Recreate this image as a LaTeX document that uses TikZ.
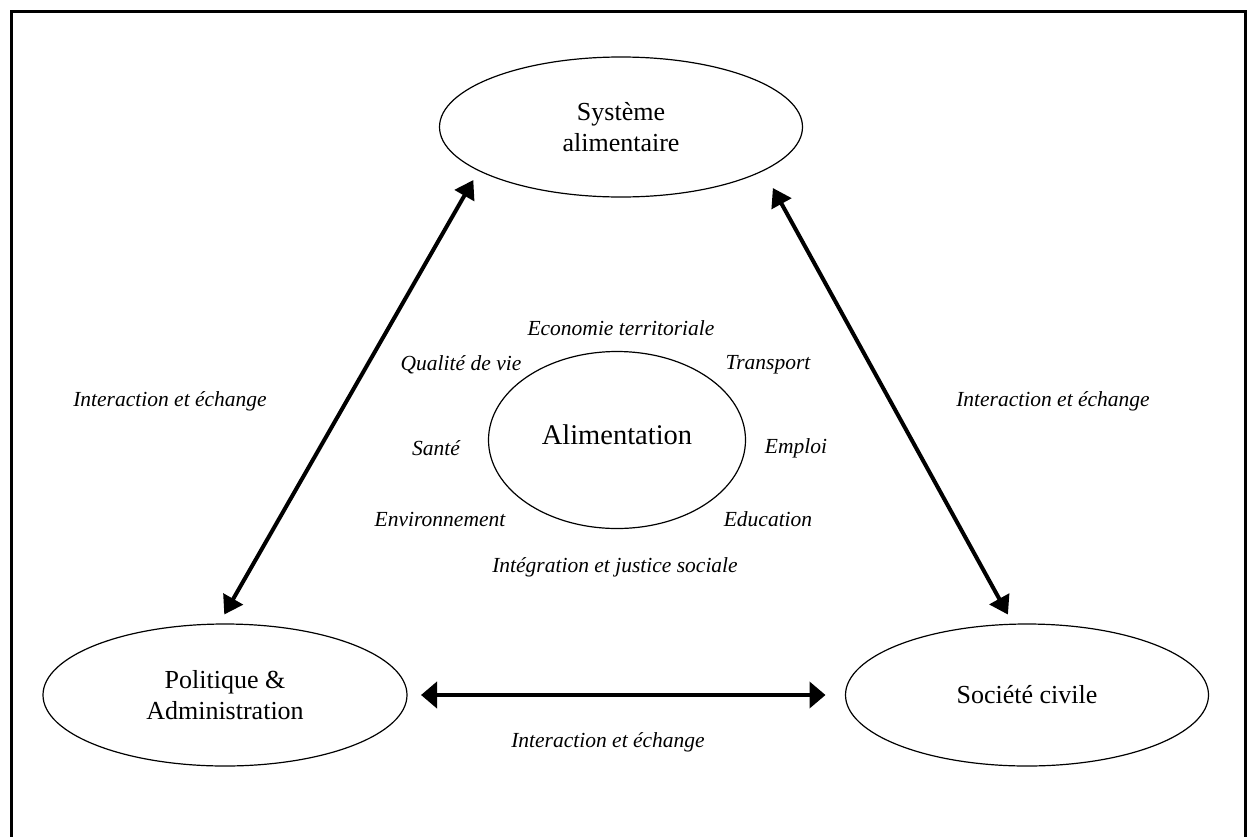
\documentclass[tikz,border=0pt]{standalone}
\usepackage{fontspec}
\setmainfont{Liberation Serif}
\usetikzlibrary{arrows.meta,shapes.geometric}
\begin{document}
\begin{tikzpicture}[x=1pt,y=-1pt,
  big/.style={ellipse,draw,line width=1.2pt,inner sep=0pt,outer sep=0pt,align=center,
    font=\fontsize{26}{31}\selectfont},
  lab/.style={font=\fontsize{21.5}{24}\selectfont\itshape,inner sep=0pt},
  biarrow/.style={line width=4pt,{Triangle[length=18pt,width=22pt]}-{Triangle[length=18pt,width=22pt]}},
  harrow/.style={line width=4pt,{Triangle[length=16pt,width=26pt]}-{Triangle[length=16pt,width=26pt]}}]
\useasboundingbox (0,0) rectangle (1247,836);
\begin{scope}
\clip (0,0) rectangle (1247,836);
\draw[line width=3pt] (11,11) rectangle (1245,860);
\end{scope}
\node[big,minimum width=363pt,minimum height=140pt] (sys) at (621,127) {Système\\alimentaire};
\node[big,minimum width=364pt,minimum height=142pt] (pol) at (225,695) {Politique \&\\Administration};
\node[big,minimum width=363pt,minimum height=142pt] (soc) at (1027,695) {Société civile};
\node[ellipse,draw,line width=1.2pt,inner sep=0pt,outer sep=0pt,minimum width=257pt,minimum height=177pt] (ali) at (617,440) {};
\node[font=\fontsize{28.5}{30}\selectfont,inner sep=0pt] (alit) at (617,435) {Alimentation};
\node[lab] (eco) at (621,328) {Economie territoriale};
\node[lab] (qual) at (461,365) {Qualité de vie};
\node[lab] (tra) at (768,365) {Transport};
\node[lab] (san) at (436,448) {Santé};
\node[lab] (emp) at (796,448) {Emploi};
\node[lab] (env) at (440,519) {Environnement};
\node[lab] (edu) at (768,519) {Education};
\node[lab] (integ) at (615,567) {Intégration et justice sociale};
\node[lab] (ie1) at (170,401) {Interaction et échange};
\node[lab] (ie2) at (1053,401) {Interaction et échange};
\node[lab] (ie3) at (608,742) {Interaction et échange};
\draw[biarrow,shorten <=11pt,shorten >=11pt] (pol.95) -- (sys.197.7);
\draw[biarrow,shorten <=11pt,shorten >=20pt] (soc.101) -- (sys.343.2);
\draw[harrow,shorten <=14pt,shorten >=20pt] (pol.east) -- (soc.west);
\end{tikzpicture}
\end{document}
